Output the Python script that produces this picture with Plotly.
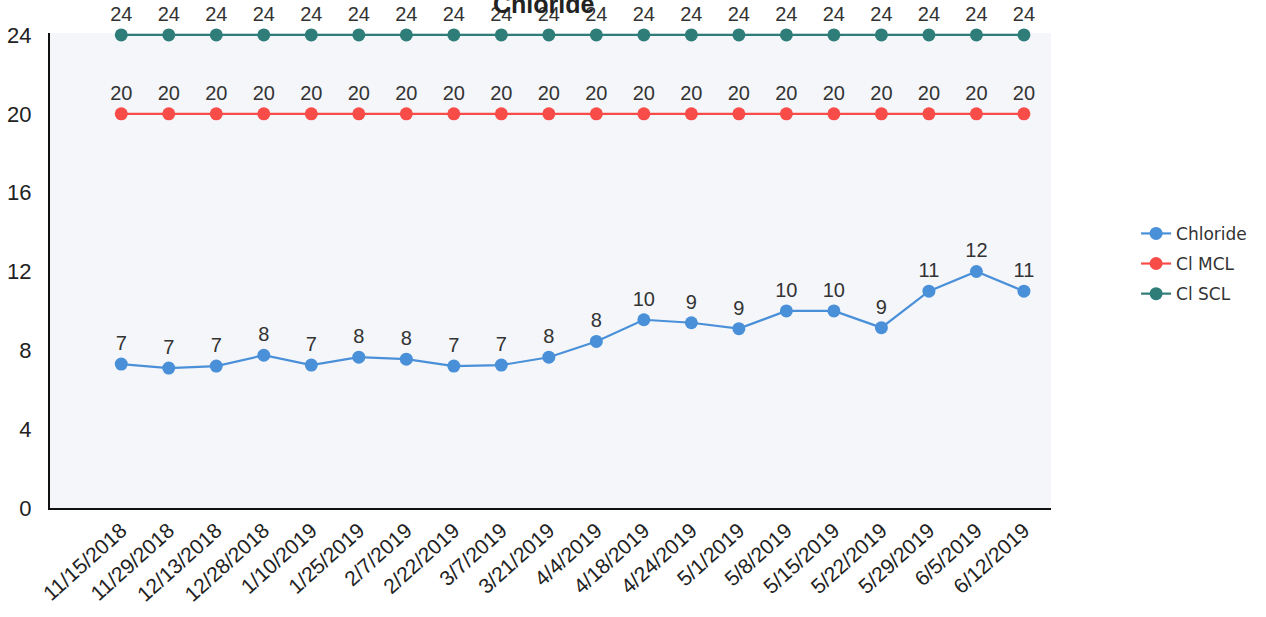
import plotly.graph_objects as go

# chart data
dates = ['11/15/2018', '11/29/2018', '12/13/2018', '12/28/2018', '1/10/2019',
         '1/25/2019', '2/7/2019', '2/22/2019', '3/7/2019', '3/21/2019',
         '4/4/2019', '4/18/2019', '4/24/2019', '5/1/2019', '5/8/2019',
         '5/15/2019', '5/22/2019', '5/29/2019', '6/5/2019', '6/12/2019']
chloride = [7.3, 7.1, 7.2, 7.75, 7.25, 7.65, 7.55, 7.2, 7.25, 7.65,
            8.45, 9.55, 9.4, 9.1, 10.0, 10.0, 9.15, 11.0, 12.0, 11.0]
cl_mcl = [20] * 20
cl_scl = [24] * 20

series = [
    ('Chloride', chloride, '#4a90d9'),
    ('Cl MCL', cl_mcl, '#f74c48'),
    ('Cl SCL', cl_scl, '#2f7d79'),
]

fig = go.Figure()
for name, vals, color in series:
    fig.add_trace(go.Scatter(
        x=dates, y=vals, name=name, mode='lines+markers+text',
        legendgroup=name,
        line=dict(color=color, width=2.2),
        marker=dict(color=color, size=13),
        text=[str(round(v)) for v in vals],
        textposition='top center',
        textfont=dict(family='Liberation Sans, Arial', size=20, color='#333'),
        cliponaxis=False,
    ))

fig.add_annotation(text='<b>Chloride</b>', xref='paper', yref='paper',
                   x=0.493, y=1.062, yanchor='middle', showarrow=False,
                   font=dict(family='Liberation Sans, Arial', size=25, color='#222'))

fig.update_layout(
    width=1266, height=617,
    margin=dict(l=50, r=215, t=33, b=109),
    paper_bgcolor='white', plot_bgcolor='#f4f6fa',
    showlegend=True,
    legend=dict(x=1.085, y=0.615, yanchor='top', xanchor='left',
                font=dict(family='DejaVu Sans, Verdana', size=17, color='#333'),
                itemwidth=30, tracegroupgap=5),
)
fig.update_xaxes(type='category', range=[-1.5, 19.57], showgrid=False,
                 showline=True, linecolor='#111', linewidth=2, ticks='',
                 tickangle=-42, automargin=False,
                 tickfont=dict(family='Liberation Sans, Arial', size=21, color='#222'))
fig.update_yaxes(range=[0, 24.1], tickvals=[0, 4, 8, 12, 16, 20, 24], showgrid=False,
                 zeroline=False, showline=True, linecolor='#111', linewidth=2,
                 ticks='', ticklabelstandoff=12, automargin=False,
                 tickfont=dict(family='Liberation Sans, Arial', size=22, color='#222'))

fig.write_html('out.html', config={'displayModeBar': False},
               post_script="document.body.style.margin='0';")
